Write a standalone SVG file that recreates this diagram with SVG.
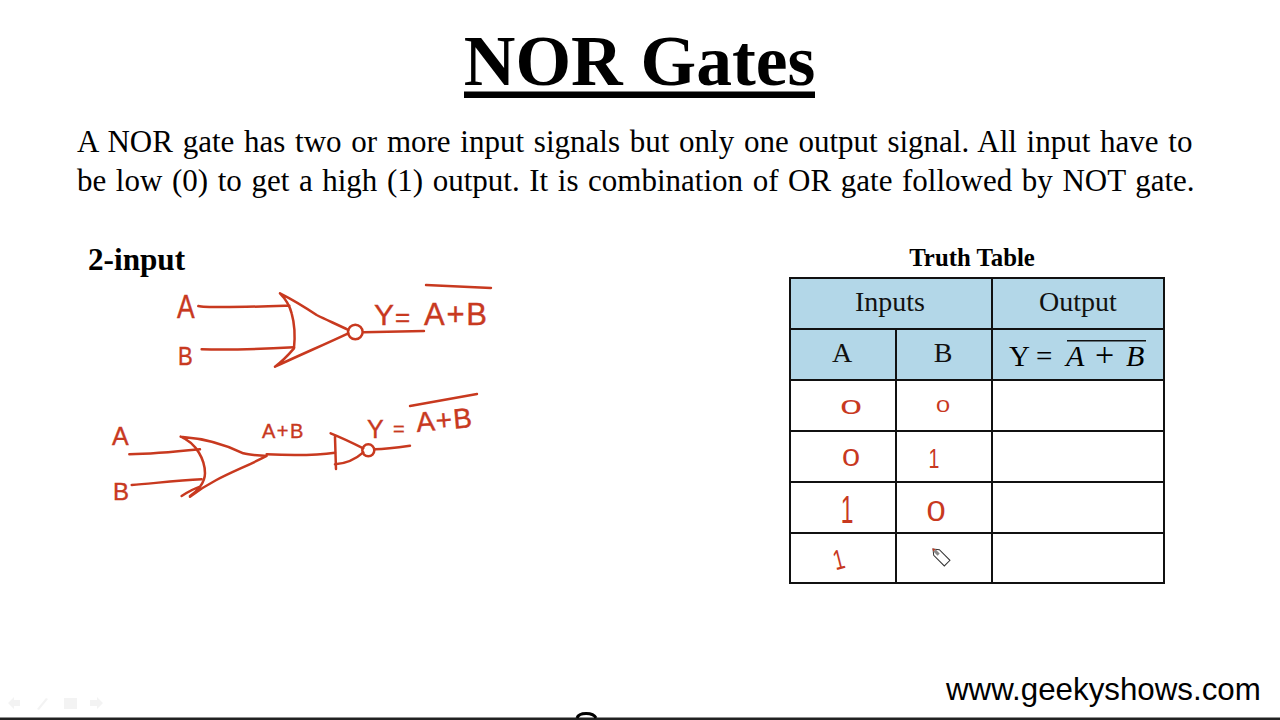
<svg xmlns="http://www.w3.org/2000/svg" width="1280" height="720" viewBox="0 0 1280 720">
<style>
text{font-family:"Liberation Serif","Times New Roman",serif;fill:#000}
.body{font-size:31px}
.th{font-size:28px;text-anchor:middle;fill:#111}
.hw{font-family:"Liberation Sans",Arial,sans-serif;fill:#c8391f;stroke:#c8391f;stroke-width:.4}
.val{stroke-width:0}
.ink{fill:none;stroke:#c8391f;stroke-width:7.5;stroke-linecap:round;stroke-linejoin:round}
.cell{stroke:#111;stroke-width:2}
.head{fill:#b3d7e8}
.ghost{fill:#f3f3f3}
.mid{text-anchor:middle}
</style>
<rect width="1280" height="720" fill="#fff"/>
<g id="title">
<text x="639.500" y="84.500" font-size="71.500" font-weight="bold" text-anchor="middle">NOR Gates</text>
<rect x="464" y="91.500" width="351" height="6.500" fill="#000"/>
</g>
<g id="description">
<text class="body" x="77" y="152" word-spacing="2">A NOR gate has two or more input signals but only one output signal. All input have to</text>
<text class="body" x="77" y="190.500" word-spacing="1.850">be low (0) to get a high (1) output. It is combination of OR gate followed by NOT gate.</text>
</g>
<text id="subtitle" x="88" y="269.500" font-size="31.200" font-weight="bold">2-input</text>
<g id="gate-nor" transform="translate(90 270) scale(.3333)">
<path class="ink" d="M570,70C620,95 650,115 680,135C710,150 745,165 775,180M555,290C630,255 700,225 775,190M570,70C590,90 600,110 605,130C615,165 615,205 612,235C595,255 575,275 555,290"/>
<circle class="ink" cx="796" cy="186" r="22" fill="#fff"/>
</g>
<g id="gate-or" transform="translate(90 270) scale(.3333)">
<path class="ink" d="M272,500C340,505 400,520 460,550C480,556 505,556 530,558C450,600 380,620 300,680M272,500C320,520 345,570 345,610C345,640 320,665 300,678M275,678C295,665 315,655 330,650"/>
</g>
<g id="gate-not" transform="translate(90 270) scale(.3333)">
<path class="ink" d="M722,490C760,505 790,520 820,535M735,500L738,597M735,583C770,580 800,565 820,547"/>
<circle class="ink" cx="835" cy="541" r="18" fill="#fff"/>
</g>
<g id="connectors" transform="translate(90 270) scale(.3333)">
<path class="ink" d="M325,108C350,115 500,110 598,107"/>
<path class="ink" d="M335,238C400,240 500,238 612,232"/>
<path class="ink" d="M820,187C880,186 940,184 1002,183"/>
<path class="ink" d="M118,553C190,552 260,545 330,538"/>
<path class="ink" d="M125,645C190,640 260,632 335,628"/>
<path class="ink" d="M530,553C600,556 680,556 735,548"/>
<path class="ink" d="M855,538C890,537 925,532 960,527"/>
</g>
<g id="labels-top">
<text class="hw" transform="translate(177 318) scale(.78 1)" font-size="34">A</text>
<text class="hw" transform="translate(178 365) scale(.85 1)" font-size="26">B</text>
<text class="hw" x="374" y="325" font-size="30">Y</text>
<text class="hw" x="395" y="326" font-size="26">=</text>
<text class="hw" x="424" y="325" font-size="31" letter-spacing="1.700">A+B</text>
<path class="ink" style="stroke-width:2.400" d="M426,285L491,288"/>
</g>
<g id="labels-bottom">
<text class="hw" x="112" y="445" font-size="25">A</text>
<text class="hw" x="113" y="500" font-size="24">B</text>
<text class="hw" x="262" y="438" font-size="20" letter-spacing="1.500">A+B</text>
<text class="hw" x="367" y="438" font-size="25">Y</text>
<text class="hw" x="393" y="436" font-size="20">=</text>
<text class="hw" x="417" y="432" font-size="28" transform="rotate(-5 417 432)" letter-spacing="1">A+B</text>
<path class="ink" style="stroke-width:2.400" d="M410,406L477,394"/>
</g>
<text id="table-title" x="972" y="265.500" font-size="24.800" font-weight="bold" text-anchor="middle">Truth Table</text>
<g id="truth-table">
<rect class="head" x="790" y="278" width="374" height="102"/>
<path class="cell" fill="none" d="M790,278H1164V583H790ZM790,329H1164M790,380H1164M790,431H1164M790,482H1164M790,533H1164M992,278V583M896,329V583"/>
<text class="th" x="890" y="311">Inputs</text>
<text class="th" x="1078" y="311">Output</text>
<text class="th" x="842" y="362">A</text>
<text class="th" x="943" y="362">B</text>
<text x="1009" y="366" font-size="29" fill="#111">Y</text>
<text x="1036" y="366" font-size="29" fill="#111">=</text>
<text x="1066" y="366" font-size="30" font-style="italic" fill="#111">A</text>
<text x="1095" y="366" font-size="34" fill="#111">+</text>
<text x="1126" y="366" font-size="30" font-style="italic" fill="#111">B</text>
<rect x="1067" y="340" width="79" height="1.500" fill="#111"/>
</g>
<g id="truth-values">
<text class="hw mid val" transform="translate(851 414) scale(1.5 .8)" font-size="26">0</text>
<text class="hw mid val" transform="translate(943 412) scale(1.1 .72)" font-size="23">0</text>
<text class="hw mid val" transform="translate(851 466) scale(1.25 .95)" font-size="26">0</text>
<text class="hw mid val" transform="translate(934 468) scale(.7 1)" font-size="28">1</text>
<text class="hw mid val" transform="translate(847 523) scale(.6 1)" font-size="38">1</text>
<text class="hw mid val" transform="translate(936 521) scale(1.15 1)" font-size="30">0</text>
<text class="hw mid val" transform="translate(841 569) rotate(-14) scale(.7 1)" font-size="28">1</text>
</g>
<g id="pen-cursor" transform="translate(933 549) rotate(-45)">
<path d="M0,0L-4,5V20H4V5Z" fill="#fff" stroke="#333" stroke-width="1"/>
<path d="M-1.500,2H1.500V8H-1.500Z" fill="#888"/>
<path d="M0,-1L-1.500,2H1.500Z" fill="#c8391f"/>
</g>
<text id="website" x="946" y="700" font-size="31.300" style="font-family:'Liberation Sans',Arial,sans-serif">www.geekyshows.com</text>
<g id="toolbar">
<path class="ghost" d="M8,703L14,697V700H20V706H14V709Z"/>
<path class="ghost" d="M37,709L46,698L48,699L39,710Z"/>
<rect class="ghost" x="64" y="698" width="13" height="11"/>
<path class="ghost" d="M103,703L97,697V700H90V706H97V709Z"/>
</g>
<rect id="bottom-bar" x="0" y="717.500" width="1280" height="2.500" fill="#222"/>
<path id="bottom-arc" d="M577,718C579,712 593,712 596,718" fill="none" stroke="#000" stroke-width="3"/>
</svg>
